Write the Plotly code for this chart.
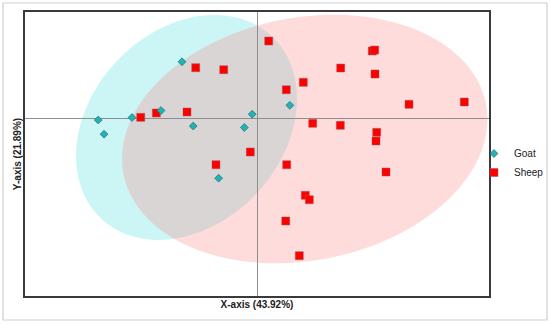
import numpy as np
import plotly.graph_objects as go

# ---- data (score plot) ----
goat_x = [-1.646, -2.102, -3.467, -3.341, -2.733, -1.402, -0.120, -0.291, 0.698, -0.850]
goat_y = [1.239, 0.178, -0.028, -0.337, 0.026, -0.159, 0.098, -0.191, 0.291, -1.293]

sheep_x = [0.239, -1.348, -0.739, -2.543, -2.204, -1.537, -0.161, -0.907, 2.491, 2.543,
           1.804, 2.550, 0.991, 0.622, 3.289, 4.491, 1.196, 1.796, 2.587, 2.572,
           0.630, 2.789, 1.035, 1.122, 0.609, 0.904]
sheep_y = [1.689, 1.109, 1.065, 0.030, 0.124, 0.146, -0.724, -1.000, 1.472, 1.493,
           1.102, 0.972, 0.791, 0.630, 0.313, 0.363, -0.100, -0.143, -0.296, -0.485,
           -1.000, -1.159, -1.665, -1.761, -2.224, -2.978]

# confidence ellipses: center x, center y, semi-major, semi-minor, angle (deg)
goat_ellipse = [-1.548, -0.189, 2.715, 2.093, 47.0]
sheep_ellipse = [1.022, -0.441, 4.013, 2.641, 10.9]

x_title = "X-axis (43.92%)"
y_title = "Y-axis (21.89%)"
x_range = [-5.059, 5.028]
y_range = [-3.854, 2.320]


def ellipse_path(cx, cy, a, b, ang_deg, n=120):
    t = np.linspace(0, 2 * np.pi, n)
    th = np.deg2rad(ang_deg)
    xs = cx + a * np.cos(t) * np.cos(th) - b * np.sin(t) * np.sin(th)
    ys = cy + a * np.cos(t) * np.sin(th) + b * np.sin(t) * np.cos(th)
    pts = [f"{x:.4f},{y:.4f}" for x, y in zip(xs, ys)]
    return "M " + " L ".join(pts) + " Z"


FW, FH = 550, 324
PL, PR, PT, PB = 25, 489, 12, 296   # plot-area edges in px


def fx(px):
    return px / FW


def fy(py):
    return (FH - py) / FH


fig = go.Figure()

fig.add_trace(go.Scatter(
    x=sheep_x, y=sheep_y, mode="markers", name="Sheep", legendrank=2,
    marker=dict(symbol="square", size=8, color="#FF0000",
                line=dict(color="rgba(150,90,90,0.8)", width=0.6)),
))
fig.add_trace(go.Scatter(
    x=goat_x, y=goat_y, mode="markers", name="Goat", legendrank=1,
    marker=dict(symbol="diamond", size=6, color="#1FB4B6",
                line=dict(color="#2B7373", width=0.8)),
))

shapes = [
    dict(type="path", xref="x", yref="y", layer="below",
         path=ellipse_path(*goat_ellipse),
         fillcolor="rgb(204,246,246)", line=dict(width=0)),
    dict(type="path", xref="x", yref="y", layer="below",
         path=ellipse_path(*sheep_ellipse),
         fillcolor="rgba(255,126,126,0.275)", line=dict(width=0)),
    dict(type="rect", xref="paper", yref="paper", layer="below",
         x0=fx(3), x1=fx(547), y0=fy(320), y1=fy(3),
         line=dict(color="#CFCFCF", width=1.2), fillcolor="rgba(0,0,0,0)"),
]

axis_common = dict(showgrid=False, showticklabels=False, ticks="",
                   zeroline=True, zerolinecolor="#8E8E8E", zerolinewidth=1,
                   showline=True, linecolor="#3A3A3A", linewidth=1.5, mirror=True)

fig.update_layout(
    width=FW, height=FH,
    margin=dict(l=0, r=0, t=0, b=0),
    paper_bgcolor="white", plot_bgcolor="white",
    font=dict(family="Arial, Liberation Sans, sans-serif", size=10, color="#222"),
    shapes=shapes,
    xaxis=dict(range=x_range, domain=[fx(PL), fx(PR)], **axis_common,
               title=dict(text=f"<b>{x_title}</b>", font=dict(size=10, color="#222"), standoff=4)),
    yaxis=dict(range=y_range, domain=[fy(PB), fy(PT)], **axis_common,
               title=dict(text=f"<b>{y_title}</b>", font=dict(size=10, color="#222"), standoff=0)),
    showlegend=True,
    legend=dict(x=fx(474), y=fy(139), xanchor="left", yanchor="top",
                bgcolor="rgba(0,0,0,0)", font=dict(size=10, color="#222"),
                itemwidth=30, tracegroupgap=0),
)

fig.write_html("out.html", config={"displayModeBar": False},
               post_script="document.body.style.margin='0px';")
